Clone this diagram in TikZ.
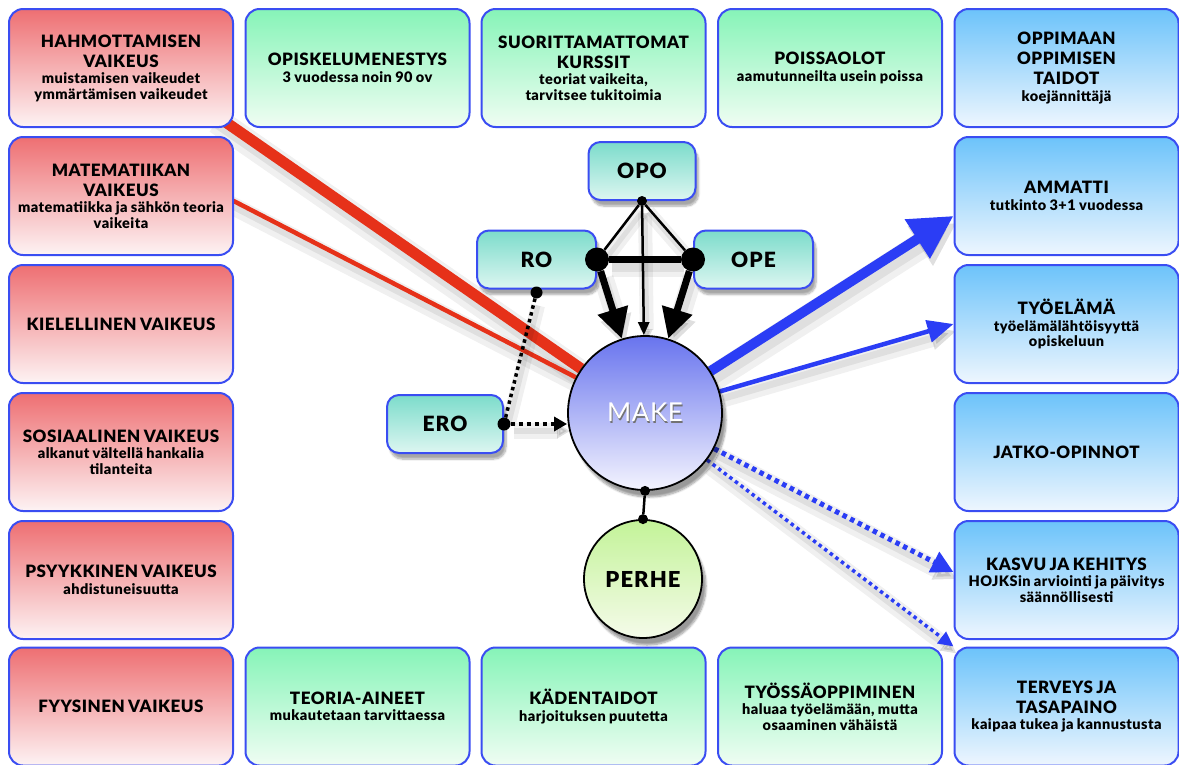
\documentclass[tikz,border=0pt]{standalone}
\usepackage{fontspec}
\setmainfont{Lato}[BoldFont={Lato Black}]
\usetikzlibrary{arrows.meta,shadows.blur,backgrounds}

\definecolor{boxblue}{HTML}{3A4DF2}
\definecolor{redtop}{HTML}{EE6F72}
\definecolor{redbot}{HTML}{FDF3F4}
\definecolor{greentop}{HTML}{86F4B8}
\definecolor{greenbot}{HTML}{F0FDF3}
\definecolor{bluetop}{HTML}{6CC3FA}
\definecolor{bluebot}{HTML}{EEF6FE}
\definecolor{tealtop}{HTML}{7CDCCB}
\definecolor{tealbot}{HTML}{DDF6F1}
\definecolor{maketop}{HTML}{6874EE}
\definecolor{makebot}{HTML}{F4F4FE}
\definecolor{perhetop}{HTML}{C3F398}
\definecolor{perhebot}{HTML}{F5FBEA}
\definecolor{linered}{HTML}{E63119}
\definecolor{lineblue}{HTML}{2B3DF5}

% title and subtitle lines inside the boxes
\newcommand\boxtitle[1]{{\fontsize{17}{20}\selectfont\addfontfeatures{LetterSpace=3}#1\par}}
\newcommand\boxsub[1]{{\fontsize{14.5}{15.5}\selectfont\addfontfeatures{LetterSpace=3}\vspace{1pt}#1\par}}

\begin{document}
\begin{tikzpicture}[x=1pt,y=-1pt,
  cell/.style={rounded corners=14pt, draw=boxblue, line width=2pt,
    minimum width=224pt, minimum height=118pt, text width=220pt,
    inner xsep=2pt, inner ysep=0pt, align=center, font=\bfseries},
  redcell/.style={cell, top color=redtop, bottom color=redbot},
  greencell/.style={cell, top color=greentop, bottom color=greenbot},
  bluecell/.style={cell, top color=bluetop, bottom color=bluebot},
  hub/.style={rounded corners=12pt, draw=boxblue, line width=2pt,
    top color=tealtop, bottom color=tealbot, inner sep=0pt,
    minimum height=58pt, font=\bfseries\fontsize{21}{24}\selectfont\addfontfeatures{LetterSpace=5},
    blur shadow={shadow xshift=3pt, shadow yshift=-6pt, shadow opacity=35, shadow blur steps=8}},
  ball/.style={circle, draw=black, line width=1.8pt, inner sep=0pt,
    blur shadow={shadow xshift=4pt, shadow yshift=-7pt, shadow opacity=40, shadow blur steps=8}},
  dot/.style={circle, fill=black, inner sep=0pt, minimum size=#1},
  lsh/.style 2 args={
    preaction={draw=black, opacity=.06, solid, line width=#1, transform canvas={shift={(3pt,-7pt)}}},
    preaction={draw=black, opacity=.07, solid, line width=#2, transform canvas={shift={(3pt,-7pt)}}}},
  redline/.style={draw=linered},
  blueline/.style={draw=lineblue},
]
\useasboundingbox (0,0) rectangle (1179,764);

% left column: difficulties
\node[redcell] (hahmo) at (121,68) {\boxtitle{HAHMOTTAMISEN\\VAIKEUS}\boxsub{muistamisen vaikeudet\\ymmärtämisen vaikeudet}};
\node[redcell] (matem) at (121,196) {\boxtitle{MATEMATIIKAN\\VAIKEUS}\boxsub{matematiikka ja sähkön teoria\\vaikeita}};
\node[redcell] (kiel) at (121,324) {\boxtitle{KIELELLINEN VAIKEUS}};
\node[redcell] (sos) at (121,452) {\boxtitle{SOSIAALINEN VAIKEUS}\boxsub{alkanut vältellä hankalia\\tilanteita}};
\node[redcell] (psyk) at (121,580) {\boxtitle{PSYYKKINEN VAIKEUS}\boxsub{ahdistuneisuutta}};
\node[redcell] (fyys) at (121,706.5) {\boxtitle{FYYSINEN VAIKEUS}};

% top and bottom rows: studies
\node[greencell] (opisk) at (357.5,68) {\boxtitle{OPISKELUMENESTYS}\boxsub{3 vuodessa noin 90 ov}};
\node[greencell] (suor) at (593.5,68) {\boxtitle{SUORITTAMATTOMAT\\KURSSIT}\boxsub{teoriat vaikeita,\\tarvitsee tukitoimia}};
\node[greencell] (poissa) at (830,68) {\boxtitle{POISSAOLOT}\boxsub{aamutunneilta usein poissa}};
\node[greencell] (teoria) at (357.5,706.5) {\boxtitle{TEORIA-AINEET}\boxsub{mukautetaan tarvittaessa}};
\node[greencell] (kaden) at (593.5,706.5) {\boxtitle{KÄDENTAIDOT}\boxsub{harjoituksen puutetta}};
\node[greencell] (tyossa) at (830,706.5) {\boxtitle{TYÖSSÄOPPIMINEN}\boxsub{haluaa työelämään, mutta\\osaaminen vähäistä}};

% right column: goals
\node[bluecell] (oppim) at (1066.5,68) {\boxtitle{OPPIMAAN\\OPPIMISEN\\TAIDOT}\boxsub{koejännittäjä}};
\node[bluecell] (ammatti) at (1066.5,196) {\boxtitle{AMMATTI}\boxsub{tutkinto 3+1 vuodessa}};
\node[bluecell] (tyoelama) at (1066.5,324) {\boxtitle{TYÖELÄMÄ}\boxsub{työelämälähtöisyyttä\\opiskeluun}};
\node[bluecell] (jatko) at (1066.5,452) {\boxtitle{JATKO-OPINNOT}};
\node[bluecell] (kasvu) at (1066.5,580) {\boxtitle{KASVU JA KEHITYS}\boxsub{HOJKSin arviointi ja päivitys\\säännöllisesti}};
\node[bluecell] (terveys) at (1066.5,706.5) {\boxtitle{TERVEYS JA\\TASAPAINO}\boxsub{kaipaa tukea ja kannustusta}};

% support people
\node[hub, minimum width=107pt] (opo) at (642,171) {OPO};
\node[hub, minimum width=119pt] (ro) at (536.5,259.5) {RO};
\node[hub, minimum width=119pt] (ope) at (753.5,259.5) {OPE};
\node[hub, minimum width=116pt] (ero) at (445,424) {ERO};

% student and family
\node[ball, minimum size=154pt, top color=maketop, bottom color=makebot] (make) at (645,413)
  {\fontsize{26}{30}\selectfont\addfontfeatures{LetterSpace=2}\makebox[0pt]{\raisebox{-1.5pt}{\hspace{2pt}\textcolor{black!55}{MAKE}}}\makebox[0pt]{\textcolor{white}{MAKE}}};
\node[ball, minimum size=118pt, top color=perhetop, bottom color=perhebot,
  font=\bfseries\fontsize{22}{24}\selectfont\addfontfeatures{LetterSpace=5}] (perhe) at (643,579) {PERHE};

% junction dots
\node[dot=10pt] (opodot) at (opo.south) {};
\node[dot=24pt] (lbig) at (ro.east) {};
\node[dot=24pt] (rbig) at (ope.west) {};
\node[dot=12pt] (rodot) at ([yshift=-3pt]ro.south) {};
\node[dot=13pt] (erodot) at (ero.east) {};
\node[dot=10pt] (makedot) at (make.south) {};
\node[dot=10pt] (perhedot) at (perhe.north) {};

\begin{scope}[on background layer]
  % difficulties pulling at the student
  \draw[redline, line width=11pt, lsh={26pt}{14pt}] ([xshift=-20pt,yshift=14pt]hahmo.south east) -- (make);
  \draw[redline, line width=4.5pt, lsh={18pt}{7pt}] ([xshift=-10pt]matem.east) -- (make);
  % goals
  \draw[blueline, line width=10pt, lsh={26pt}{13pt}, -{Triangle[length=43pt,width=44pt]}] (make) -- (ammatti.190);
  \draw[blueline, line width=4.5pt, lsh={18pt}{7pt}, -{Triangle[length=26pt,width=22pt]}] (make) -- (tyoelama.west);
  \draw[blueline, line width=5pt, dash pattern=on 4.5pt off 4pt, lsh={18pt}{7pt}, -{Triangle[length=22pt,width=22pt]}] (make) -- (kasvu.176);
  \draw[blueline, line width=3.5pt, dash pattern=on 3.5pt off 3.5pt, lsh={16pt}{6pt}, -{Triangle[length=15pt,width=14pt]}] (make) -- (terveys.north west);
  % support network
  \draw[line width=2.5pt, lsh={14pt}{5pt}] (opodot) -- (lbig);
  \draw[line width=2.5pt, lsh={14pt}{5pt}] (opodot) -- (rbig);
  \draw[line width=7pt, lsh={20pt}{10pt}] (lbig) -- (rbig);
  \draw[line width=2.5pt, lsh={14pt}{5pt}, -{Triangle[length=13pt,width=11pt]}] (opodot) -- (make);
  \draw[line width=7pt, lsh={20pt}{10pt}, -{Triangle[length=30pt,width=30pt]}] (lbig) -- (make);
  \draw[line width=7pt, lsh={20pt}{10pt}, -{Triangle[length=30pt,width=30pt]}] (rbig) -- (make);
  \draw[line width=4pt, dash pattern=on 4pt off 4pt, lsh={16pt}{6pt}, -{Triangle[length=13pt,width=14pt]}] (erodot) -- (erodot -| make.west);
  \draw[line width=3.5pt, dash pattern=on 3.5pt off 3.5pt, lsh={14pt}{5pt}] (erodot) -- (rodot);
  \draw[line width=2.5pt] (makedot) -- (perhedot);
\end{scope}
\end{tikzpicture}
\end{document}
